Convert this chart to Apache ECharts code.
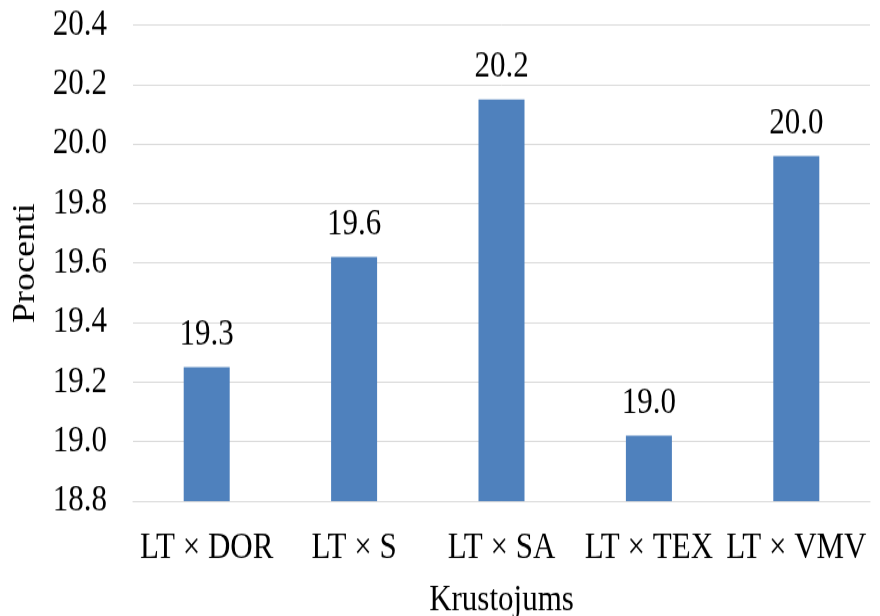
<!DOCTYPE html>
<html>
<head>
<meta charset="utf-8">
<script src="https://cdn.jsdelivr.net/npm/echarts@6/dist/echarts.min.js"></script>
<style>
  html, body { margin: 0; padding: 0; background: #fff; }
  #frame { position: relative; width: 880px; height: 616px; overflow: visible; }
  /* the chart is drawn a little shorter and stretched vertically, giving tall serif lettering */
  #chart { position: absolute; left: 0; top: 0; width: 880px; height: 531px;
           transform: scaleY(1.16); transform-origin: 0 0; }
</style>
</head>
<body>
<div id="frame"><div id="chart"></div></div>
<script>
// Crossing combinations and their percentages
const categories = ['LT × DOR', 'LT × S', 'LT × SA', 'LT × TEX', 'LT × VMV'];
const values = [19.25, 19.62, 20.15, 19.02, 19.96];

const axisMin = 18.8;
const axisMax = 20.4;
const axisStep = 0.2;

const FONT = '"Liberation Serif", "Times New Roman", serif';

// one-decimal rounding that is safe against binary float error (20.15 -> 20.2)
const oneDecimal = v => (Math.round(v * 10 + 1e-9) / 10).toFixed(1);

const chart = echarts.init(document.getElementById('chart'), null, { renderer: 'canvas' });

chart.setOption({
  backgroundColor: '#ffffff',
  animation: false,
  grid: { left: 133, right: 10, top: 21.5, bottom: 99, outerBoundsMode: 'none', containLabel: false },
  xAxis: {
    type: 'category',
    data: categories,
    name: 'Krustojums',
    nameLocation: 'middle',
    nameGap: 70,
    nameTextStyle: { fontFamily: FONT, fontSize: 31, color: '#000' },
    axisLine: { show: true, lineStyle: { color: '#d9d9d9', width: 1 } },
    axisTick: { show: false },
    axisLabel: { fontFamily: FONT, fontSize: 31, color: '#000', margin: 25, interval: 0 }
  },
  yAxis: {
    type: 'value',
    min: axisMin,
    max: axisMax,
    interval: axisStep,
    name: 'Procenti',
    nameLocation: 'middle',
    nameGap: 76,
    nameTextStyle: { fontFamily: FONT, fontSize: 31, color: '#000' },
    axisLine: { show: false },
    axisTick: { show: false },
    splitLine: { show: true, lineStyle: { color: '#d9d9d9', width: 1 } },
    axisLabel: {
      fontFamily: FONT, fontSize: 31, color: '#000', margin: 26,
      formatter: v => v.toFixed(1)
    }
  },
  series: [{
    type: 'bar',
    data: values,
    barWidth: 46,
    itemStyle: { color: '#4f81bd' },
    label: {
      show: true,
      position: 'top',
      distance: 12,
      fontFamily: FONT,
      fontSize: 31,
      color: '#000',
      formatter: p => oneDecimal(p.value)
    }
  }]
});
</script>
</body>
</html>
